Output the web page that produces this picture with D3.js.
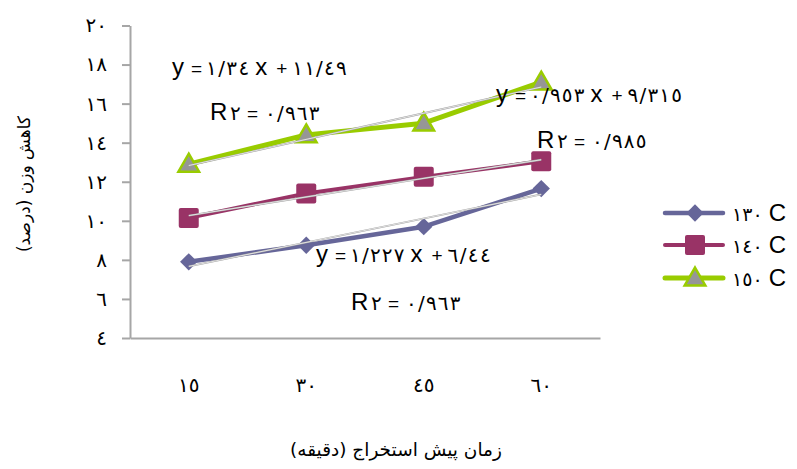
<!DOCTYPE html>
<html>
<head>
<meta charset="utf-8">
<script src="https://cdn.jsdelivr.net/npm/d3@7"></script>
<style>
  body { margin: 0; background: #fff; }
  svg { display: block; }
  .ltr { direction: ltr; unicode-bidi: bidi-override; }
</style>
</head>
<body>
<script>
// chart data
var categories = ["١٥", "٣٠", "٤٥", "٦٠"];
var seriesNames = ["١٣٠", "١٤٠", "١٥٠"];
var values130 = [7.9, 8.75, 9.7, 11.65];
var values140 = [10.15, 11.4, 12.25, 13.05];
var values150 = [12.9, 14.4, 15.0, 17.1];
var yTicks = [4, 6, 8, 10, 12, 14, 16, 18, 20];
var yTickLabels = ["٤", "٦", "٨", "١٠", "١٢", "١٤", "١٦", "١٨", "٢٠"];
// trendlines y = a x + b (x = category index 1..4)
var slopes = [1.227, 0.953, 1.34];
var intercepts = [6.44, 9.315, 11.49];
var slopeLabels = ["١/٢٢٧", "٠/٩٥٣", "١/٣٤"];
var interceptLabels = ["٦/٤٤", "٩/٣١٥", "١١/٤٩"];
var r2Labels = ["٠/٩٦٣", "٠/٩٨٥", "٠/٩٦٣"];
var xTitle = "زمان پیش استخراج (دقیقه)";
var yTitle = "کاهش وزن (درصد)";

var W = 797, H = 469;
var margin = {top: 25.5, left: 130, right: 197, bottom: 131};

var svg = d3.select("body").append("svg")
  .attr("width", W)
  .attr("height", H);

var x = d3.scaleBand()
  .domain(categories)
  .range([margin.left, W - margin.right])
  .padding(0);

var y = d3.scaleLinear()
  .domain([4, 20])
  .range([H - margin.bottom, margin.top]);

var cx = function(i) { return x(categories[i]) + x.bandwidth() / 2; };

var series = [
  {name: seriesNames[0], values: values130, color: "#666699", fill: "#666699", stroke: "#666699", shape: "diamond", lw: 4.5},
  {name: seriesNames[1], values: values140, color: "#993366", fill: "#993366", stroke: "#993366", shape: "square", lw: 4},
  {name: seriesNames[2], values: values150, color: "#99cc00", fill: "#969696", stroke: "#99cc00", shape: "triangle", lw: 5}
];

// Y axis
var yAxis = svg.append("g")
  .attr("transform", "translate(" + margin.left + ",0)")
  .call(d3.axisLeft(y)
    .tickValues(yTicks)
    .tickSize(8)
    .tickSizeOuter(0)
    .tickPadding(15)
    .tickFormat(function(d, i) { return yTickLabels[i]; }));
yAxis.select(".domain").attr("stroke", "#a6a6a6").attr("stroke-width", 2);
yAxis.selectAll(".tick line").attr("stroke", "#a6a6a6").attr("stroke-width", 2);
yAxis.selectAll(".tick text")
  .attr("font-family", "DejaVu Sans")
  .attr("font-size", 20)
  .attr("letter-spacing", 1)
  .attr("fill", "#000");

// X axis
var xAxis = svg.append("g")
  .attr("transform", "translate(0," + (H - margin.bottom) + ")")
  .call(d3.axisBottom(x).tickSize(0).tickSizeOuter(0).tickPadding(40));
xAxis.select(".domain").attr("stroke", "#a6a6a6").attr("stroke-width", 2);
xAxis.selectAll(".tick text")
  .attr("font-family", "DejaVu Sans")
  .attr("font-size", 20)
  .attr("letter-spacing", 1.5)
  .attr("fill", "#000");

// axis titles
svg.append("text")
  .attr("x", 396)
  .attr("y", 456)
  .attr("text-anchor", "middle")
  .attr("font-family", "DejaVu Sans")
  .attr("font-size", 18.5)
  .text(xTitle);

svg.append("text")
  .attr("transform", "translate(30,184) rotate(-90)")
  .attr("text-anchor", "middle")
  .attr("font-family", "DejaVu Sans")
  .attr("font-size", 17)
  .text(yTitle);

// series lines
var line = d3.line()
  .x(function(d, i) { return cx(i); })
  .y(function(d) { return y(d); });

series.forEach(function(s) {
  svg.append("path")
    .datum(s.values)
    .attr("fill", "none")
    .attr("stroke", s.color)
    .attr("stroke-width", s.lw)
    .attr("stroke-linejoin", "round")
    .attr("stroke-linecap", "round")
    .attr("d", line);
});

// markers
function drawMarker(g, s) {
  if (s.shape === "diamond") {
    g.append("path")
      .attr("d", d3.symbol().type(d3.symbolSquare).size(150)())
      .attr("transform", "rotate(45)")
      .attr("fill", s.fill);
  } else if (s.shape === "square") {
    g.append("rect")
      .attr("x", -10).attr("y", -10)
      .attr("width", 20).attr("height", 20)
      .attr("rx", 2)
      .attr("fill", s.fill);
  } else {
    g.append("path")
      .attr("d", d3.symbol().type(d3.symbolTriangle).size(185)())
      .attr("transform", "translate(0,1.5)")
      .attr("fill", s.fill)
      .attr("stroke", s.stroke)
      .attr("stroke-width", 2.5)
      .attr("stroke-linejoin", "miter");
  }
}

series.forEach(function(s) {
  s.values.forEach(function(v, i) {
    var g = svg.append("g").attr("transform", "translate(" + cx(i) + "," + y(v) + ")");
    drawMarker(g, s);
  });
});

// trendlines
series.forEach(function(s, k) {
  var pts = [1, 4].map(function(t) { return [cx(t - 1), y(slopes[k] * t + intercepts[k])]; });
  svg.append("path")
    .attr("d", d3.line()(pts))
    .attr("stroke", "#a0a0a0")
    .attr("stroke-width", 1.8)
    .attr("fill", "none");
  svg.append("path")
    .attr("d", d3.line()(pts))
    .attr("stroke", "#ffffff")
    .attr("stroke-width", 0.7)
    .attr("fill", "none");
});

// equation labels, built token by token
var eqPos = [
  {ex: 316, ey: 262, rx: 351, ry: 310},
  {ex: 496, ey: 102, rx: 537, ry: 148},
  {ex: 172, ey: 75, rx: 210, ry: 120}
];

function tok(px, py, txt, kind) {
  var t = svg.append("text").attr("class", "ltr").attr("x", px).attr("y", py).text(txt);
  if (kind === "big") {
    t.attr("font-family", "Liberation Sans").attr("font-size", 24);
  } else if (kind === "sym") {
    t.attr("font-family", "Liberation Sans").attr("font-size", 19);
  } else {
    t.attr("font-family", "DejaVu Sans").attr("font-size", 20)
      .attr("textLength", txt.length * 11.3 - 2)
      .attr("lengthAdjust", "spacing");
  }
  return txt.length * 11.3 - 2;
}

series.forEach(function(s, k) {
  var p = eqPos[k];
  tok(p.ex, p.ey, "y", "big");
  tok(p.ex + 19, p.ey, "=", "sym");
  var w1 = tok(p.ex + 34, p.ey, slopeLabels[k], "dig");
  var xs = p.ex + 34 + w1 + 6;
  tok(xs, p.ey, "x", "big");
  tok(xs + 21, p.ey, "+", "sym");
  tok(xs + 37, p.ey, interceptLabels[k], "dig");

  tok(p.rx, p.ry, "R", "big");
  tok(p.rx + 20, p.ry, "٢", "dig");
  tok(p.rx + 37, p.ry, "=", "sym");
  tok(p.rx + 55, p.ry, r2Labels[k], "dig");
});

// legend
var legendY = [213, 245, 278];
series.forEach(function(s, k) {
  var g = svg.append("g").attr("transform", "translate(0," + legendY[k] + ")");
  g.append("line")
    .attr("x1", 665).attr("x2", 723)
    .attr("stroke", s.color)
    .attr("stroke-width", s.lw)
    .attr("stroke-linecap", "round");
  var m = g.append("g").attr("transform", "translate(695,0)");
  drawMarker(m, s);
  var t = g.append("text").attr("class", "ltr").attr("x", 732).attr("y", 8);
  t.append("tspan").attr("font-family", "DejaVu Sans").attr("font-size", 19)
    .attr("letter-spacing", 1).text(s.name + "  ");
  t.append("tspan").attr("font-family", "Liberation Sans").attr("font-size", 24).text("C");
});
</script>
</body>
</html>
